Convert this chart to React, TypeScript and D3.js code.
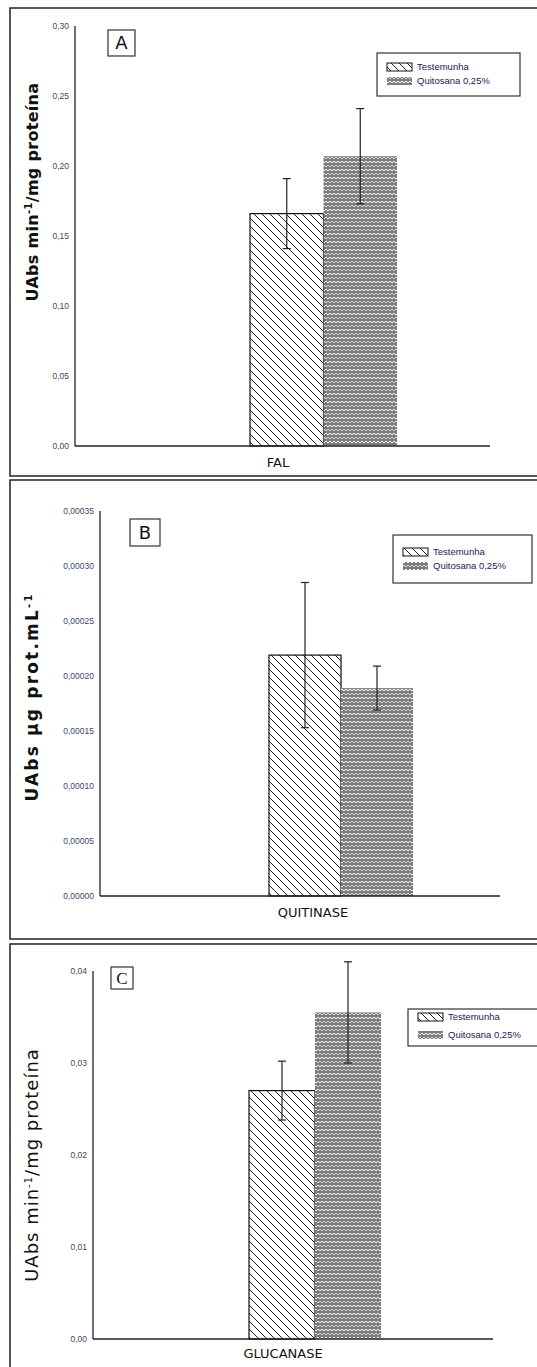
import React from "react";
import * as d3 from "d3";

const categories = ["FAL", "QUITINASE", "GLUCANASE"];
const seriesNames = ["Testemunha", "Quitosana 0,25%"];
const testemunhaValues = [0.166, 0.000219, 0.027];
const testemunhaErrors = [0.025, 0.000066, 0.0032];
const quitosanaValues = [0.207, 0.000189, 0.0355];
const quitosanaErrors = [0.034, 0.00002, 0.0055];
const panelLetters = ["A", "B", "C"];
const yLabels = ["UAbs min", "UAbs µg prot.mL", "UAbs min"];
const yTicksA = [0, 0.05, 0.1, 0.15, 0.2, 0.25, 0.3];
const yTicksB = [0, 0.00005, 0.0001, 0.00015, 0.0002, 0.00025, 0.0003, 0.00035];
const yTicksC = [0, 0.01, 0.02, 0.03, 0.04];
const tickDecimals = [2, 5, 2];

type Layout = {
  top: number; bottom: number;
  axisX: number; axisRight: number; y0: number; yTop: number;
  barStart: number; barW: number;
  letterBox: [number, number, number, number];
  legend: [number, number, number, number];
  legendRows: [number, number];
  yLabelY: number; xLabelX: number; xLabelY: number;
  yLabelSize: number; yLabelWeight: number | string; yLabelSpacing: number;
};

const layouts: Layout[] = [
  { top: 8, bottom: 476, axisX: 75, axisRight: 490, y0: 446, yTop: 26, barStart: 250, barW: 73.5,
    letterBox: [108, 30, 27, 26], legend: [377, 53, 143, 43], legendRows: [67, 81],
    yLabelY: 192, xLabelX: 278, xLabelY: 467, yLabelSize: 16, yLabelWeight: "bold", yLabelSpacing: 0.3 },
  { top: 480, bottom: 939, axisX: 100, axisRight: 500, y0: 896, yTop: 511, barStart: 269, barW: 72,
    letterBox: [130, 519, 30, 27], legend: [393, 535, 139, 48], legendRows: [552, 566],
    yLabelY: 697, xLabelX: 313, xLabelY: 917, yLabelSize: 17, yLabelWeight: 600, yLabelSpacing: 2.2 },
  { top: 944, bottom: 1380, axisX: 93, axisRight: 493, y0: 1339, yTop: 971, barStart: 249, barW: 66,
    letterBox: [111, 967, 22, 22], legend: [408, 1009, 140, 37], legendRows: [1017, 1035],
    yLabelY: 1165, xLabelX: 283, xLabelY: 1358, yLabelSize: 18, yLabelWeight: 500, yLabelSpacing: 1 },
];

const tickSets = [yTicksA, yTicksB, yTicksC];

function fmt(v: number, d: number) {
  return d3.format(`.${d}f`)(v).replace(".", ",");
}

function Panel({ i }: { i: number }) {
  const L = layouts[i];
  const ticks = tickSets[i];
  const maxV = ticks[ticks.length - 1];
  const y = d3.scaleLinear().domain([0, maxV]).range([L.y0, L.yTop]);
  const x = d3.scaleBand<string>().domain(seriesNames).range([L.barStart, L.barStart + 2 * L.barW]).padding(0);
  const vals = [testemunhaValues[i], quitosanaValues[i]];
  const errs = [testemunhaErrors[i], quitosanaErrors[i]];
  const fills = ["url(#hatch)", "url(#zig)"];
  const fs = 9.5;
  return (
    <g>
      <rect x={10} y={L.top} width={540} height={L.bottom - L.top} fill="white" stroke="#222" strokeWidth={1.5} />
      {seriesNames.map((s, k) => (
        <rect key={s} x={x(s)} y={y(vals[k])} width={x.bandwidth()} height={L.y0 - y(vals[k])}
          fill={fills[k]} stroke={k === 0 ? "#111" : "none"} strokeWidth={1.2} />
      ))}
      {seriesNames.map((s, k) => {
        const cx = (x(s) as number) + x.bandwidth() / 2;
        const t = y(vals[k] + errs[k]);
        const b = y(vals[k] - errs[k]);
        return (
          <g key={"e" + s} stroke="#222" strokeWidth={1.2}>
            <line x1={cx} x2={cx} y1={t} y2={b} />
            <line x1={cx - 4} x2={cx + 4} y1={t} y2={t} />
            <line x1={cx - 4} x2={cx + 4} y1={b} y2={b} />
          </g>
        );
      })}
      <line x1={L.axisX} x2={L.axisX} y1={L.yTop} y2={L.y0} stroke="#222" strokeWidth={1.3} />
      <line x1={L.axisX} x2={L.axisRight} y1={L.y0} y2={L.y0} stroke="#222" strokeWidth={1.3} />
      {ticks.map((t) => (
        <text key={t} x={L.axisX - 6} y={y(t)} dy="0.35em" textAnchor="end" fontSize={8.5}
          fontFamily="Liberation Sans, Arial, sans-serif" fill="#3c4866">{fmt(t, tickDecimals[i])}</text>
      ))}
      <rect x={L.letterBox[0]} y={L.letterBox[1]} width={L.letterBox[2]} height={L.letterBox[3]} fill="white" stroke="#333" strokeWidth={1.2} />
      <text x={L.letterBox[0] + L.letterBox[2] / 2} y={L.letterBox[1] + L.letterBox[3] / 2} dy="0.36em" textAnchor="middle"
        fontSize={i === 2 ? 17 : 18} fontFamily={i === 2 ? "Liberation Serif, serif" : "DejaVu Sans, sans-serif"} fill="#111">{panelLetters[i]}</text>
      <rect x={L.legend[0]} y={L.legend[1]} width={L.legend[2]} height={L.legend[3]} fill="white" stroke="#333" strokeWidth={1.2} />
      <rect x={L.legend[0] + 10} y={L.legendRows[0] - 4} width={25} height={8} fill="url(#hatch)" stroke="#111" strokeWidth={1} />
      <rect x={L.legend[0] + 10} y={L.legendRows[1] - 4} width={25} height={8} fill="url(#zig)" />
      {seriesNames.map((s, k) => (
        <text key={"l" + s} x={L.legend[0] + 40} y={L.legendRows[k]} dy="0.35em" fontSize={fs}
          fontFamily="Liberation Sans, Arial, sans-serif" fill="#1a2250">{s}</text>
      ))}
      <text transform={`translate(38,${L.yLabelY}) rotate(-90)`} textAnchor="middle" fontSize={L.yLabelSize}
        fontWeight={L.yLabelWeight} letterSpacing={L.yLabelSpacing} fontFamily="DejaVu Sans, sans-serif" fill="#111">
        {yLabels[i]}
        <tspan dy={-6} fontSize={10}>-1</tspan>
        {i !== 1 ? <tspan dy={6}>/mg proteína</tspan> : null}
      </text>
      <text x={L.xLabelX} y={L.xLabelY} textAnchor="middle" fontSize={13} fontFamily="DejaVu Sans, sans-serif" fill="#111">{categories[i]}</text>
    </g>
  );
}

export default function App() {
  return (
    <svg width={537} height={1367} style={{ position: "absolute", left: 0, top: 0, background: "white" }}>
      <defs>
        <pattern id="hatch" patternUnits="userSpaceOnUse" width={8} height={8}>
          <rect width={8} height={8} fill="white" />
          <path d="M-2,-2 L10,10 M-2,6 L2,10 M6,-2 L10,2" stroke="#222" strokeWidth={1} />
        </pattern>
        <pattern id="zig" patternUnits="userSpaceOnUse" width={8} height={8}>
          <rect width={8} height={8} fill="#7d7d7d" />
          <path d="M0,3 L2,1 L4,3 L6,1 L8,3" stroke="white" strokeWidth={1} fill="none" />
          <path d="M0,5 L2,7 L4,5 L6,7 L8,5" stroke="#d8d8d8" strokeWidth={1} fill="none" />
        </pattern>
      </defs>
      {layouts.map((_, i) => <Panel key={i} i={i} />)}
    </svg>
  );
}
